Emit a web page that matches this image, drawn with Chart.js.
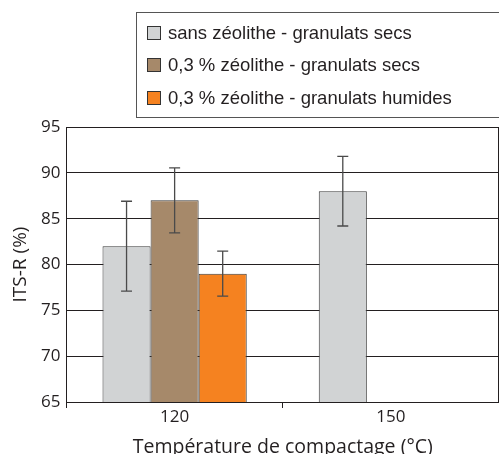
<!DOCTYPE html>
<html>
<head>
<meta charset="utf-8">
<script src="https://cdn.jsdelivr.net/npm/chart.js@4.4.0/dist/chart.umd.min.js"></script>
<style>
    html, body { margin: 0; padding: 0; background: #fff; overflow: hidden; }
    #wrap { position: relative; width: 499px; height: 459px; }
    #legend {
        position: absolute; left: 136px; top: 12px; width: 380px; height: 106px;
        border: 1px solid #555; box-sizing: border-box;
        font-family: 'Liberation Sans', Arial, sans-serif; font-size: 18.5px; color: #231f20;
    }
    .item { position: absolute; left: 10px; height: 22px; line-height: 22px; white-space: nowrap; }
    .box { display: inline-block; width: 12px; height: 12px; border: 1px solid #333; vertical-align: -1px; margin-right: 7px; }
</style>
</head>
<body>
<div id="wrap">
    <canvas id="itsChart" width="499" height="459"></canvas>
    <div id="legend"></div>
</div>
<script>
// Compaction temperature categories
const categories = ['120', '150'];

const seriesLabels = [
    'sans zéolithe - granulats secs',
    '0,3 % zéolithe - granulats secs',
    '0,3 % zéolithe - granulats humides'
];

// ITS-R values (%)
const sansZeoliteSecs = [82, 88];
const zeoliteSecs = [87, null];
const zeoliteHumides = [79, null];

// error bar half-widths
const errSansZeoliteSecs = [4.9, 3.8];
const errZeoliteSecs = [3.55, null];
const errZeoliteHumides = [2.45, null];

const yTicks = [65, 70, 75, 80, 85, 90, 95];

const colors = {
    grey: '#d1d3d4',
    brown: '#a6896a',
    orange: '#f58220',
    line: '#231f20',
    err: '#4a4a4a'
};

const seriesColors = [colors.grey, colors.brown, colors.orange];
const seriesErrors = [errSansZeoliteSecs, errZeoliteSecs, errZeoliteHumides];

// legend (html)
const legend = document.getElementById('legend');
seriesLabels.forEach((label, i) => {
    const div = document.createElement('div');
    div.className = 'item';
    div.style.top = (9 + i * 32 + (i === 2 ? 1 : 0)) + 'px';
    div.innerHTML = '<span class="box" style="background:' + seriesColors[i] + '"></span>' + label;
    legend.appendChild(div);
});

// error bars + frame
const errorBars = {
    id: 'errorBars',
    afterDatasetsDraw(chart) {
        const ctx = chart.ctx;
        const y = chart.scales.y;
        ctx.save();
        ctx.strokeStyle = colors.err;
        ctx.lineWidth = 1.3;
        chart.data.datasets.forEach((ds, di) => {
            const meta = chart.getDatasetMeta(di);
            ds.data.forEach((v, i) => {
                const e = seriesErrors[di][i];
                if (v === null || e === null) return;
                const x = meta.data[i].x;
                const top = y.getPixelForValue(v + e);
                const bot = y.getPixelForValue(v - e);
                ctx.beginPath();
                ctx.moveTo(x, top); ctx.lineTo(x, bot);
                ctx.moveTo(x - 5.5, top); ctx.lineTo(x + 5.5, top);
                ctx.moveTo(x - 5.5, bot); ctx.lineTo(x + 5.5, bot);
                ctx.stroke();
            });
        });
        // right edge of the frame
        const a = chart.chartArea;
        ctx.strokeStyle = colors.line;
        ctx.lineWidth = 1;
        ctx.beginPath();
        ctx.moveTo(a.right - 0.5, a.top);
        ctx.lineTo(a.right - 0.5, a.bottom);
        ctx.stroke();
        ctx.restore();
    }
};

const axisFont = { family: "'Open Sans', sans-serif", size: 16 };

new Chart(document.getElementById('itsChart'), {
    type: 'bar',
    data: {
        labels: categories,
        datasets: [sansZeoliteSecs, zeoliteSecs, zeoliteHumides].map((d, i) => ({
            label: seriesLabels[i],
            data: d,
            backgroundColor: seriesColors[i],
            borderColor: '#3a3a3a',
            borderWidth: 1,
            categoryPercentage: 0.667,
            barPercentage: 1
        }))
    },
    options: {
        responsive: false,
        animation: false,
        layout: { padding: { top: 127, right: 0, left: 0, bottom: 0 } },
        plugins: {
            legend: { display: false },
            tooltip: { enabled: false }
        },
        scales: {
            x: {
                afterFit(scale) { scale.height = 57; },
                grid: { drawOnChartArea: false, drawTicks: true, tickLength: 6, color: colors.line, offset: true },
                border: { color: colors.line, width: 1 },
                ticks: { color: '#231f20', font: { family: axisFont.family, size: 17 }, padding: -1 },
                title: {
                    display: true,
                    text: 'Température de compactage (°C)',
                    color: '#231f20',
                    font: { family: axisFont.family, size: 19.5 },
                    padding: { top: 0, bottom: 0 }
                }
            },
            y: {
                min: 65,
                max: 95,
                afterFit(scale) { scale.width = 66.5; },
                afterBuildTicks(scale) { scale.ticks = yTicks.map(v => ({ value: v })); },
                grid: { color: colors.line, drawTicks: false, lineWidth: 1 },
                border: { color: colors.line, width: 1 },
                ticks: { color: '#231f20', font: { family: axisFont.family, size: 17 }, padding: 6 },
                title: {
                    display: true,
                    text: 'ITS-R (%)',
                    color: '#231f20',
                    font: { family: axisFont.family, size: 19 },
                    padding: { top: 9, bottom: 0 }
                }
            }
        }
    },
    plugins: [errorBars]
});
</script>
</body>
</html>
